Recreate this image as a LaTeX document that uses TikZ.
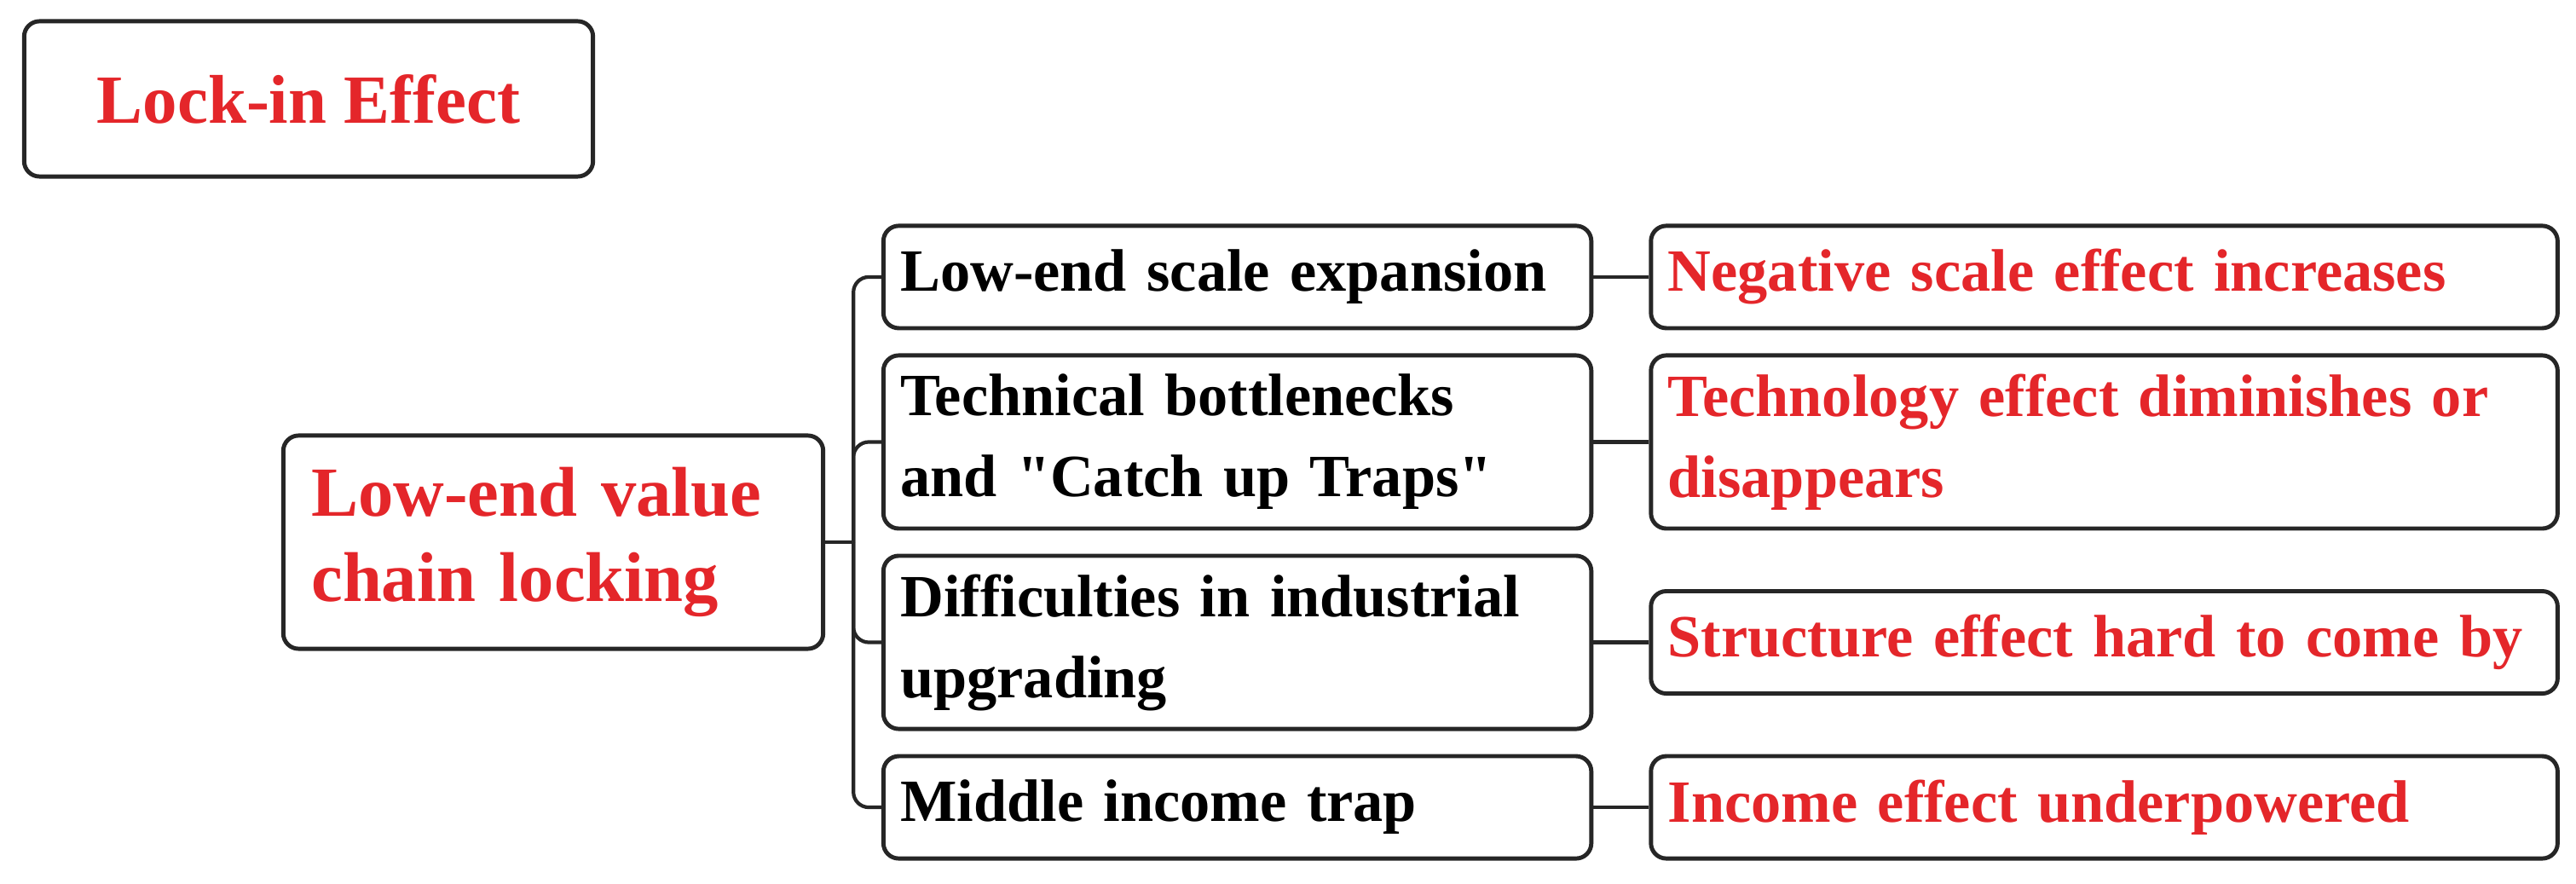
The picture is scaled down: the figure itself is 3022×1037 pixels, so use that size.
\documentclass[tikz,border=0pt]{standalone}
\usepackage{fontspec}
\setmainfont{Liberation Serif}
\usetikzlibrary{matrix,positioning}
\definecolor{lockred}{RGB}{228,38,42}

\begin{document}
\begin{tikzpicture}[x=0.01cm,y=-0.01cm,
    box/.style={draw=black!85, line width=1.4pt, rounded corners=0.18cm, align=left, inner xsep=0.2cm, inner ysep=0pt, minimum height=1.2cm, font=\bfseries\fontsize{20}{27}\selectfont},
    link/.style={draw=black!85, line width=1.2pt}]
    \useasboundingbox (0,0) rectangle (3022,1037);
    \node[box, text=lockred, align=center, minimum width=6.67cm, minimum height=1.82cm, font=\bfseries\fontsize{23}{28}\selectfont] (lock) at (362,116) {Lock-in Effect};
    \node[box, text=lockred, text width=5.67cm, inner xsep=0.33cm, minimum height=2.5cm, font=\bfseries\fontsize{23.5}{28.5}\selectfont] (main) at (649,636) {Low-end value\\chain locking};
    \coordinate[right=0.33cm of main.east] (hub);
    \matrix[matrix of nodes, nodes={box, anchor=center}, column sep=0.65cm, row sep=0.27cm, inner sep=0pt, right=0.32cm of hub,
        column 1/.style={nodes={text width=7.9cm}},
        column 2/.style={nodes={text width=10.23cm, text=lockred}},
        tall/.style={minimum height=2.03cm}] (m) {
        Low-end scale expansion & Negative scale effect increases \\
        |[tall]| {Technical bottlenecks\\and \textquotedbl Catch up Traps\textquotedbl} & |[tall]| {Technology effect diminishes or\\disappears} \\
        |[tall]| {Difficulties in industrial\\upgrading} & Structure effect hard to come by \\
        Middle income trap & Income effect underpowered \\
    };
    \draw[link] (main.east) -- (hub);
    \foreach \r in {1,...,4} {
        \draw[link, rounded corners=0.18cm] (hub) |- (m-\r-1.west);
        \draw[link] (m-\r-1.east) -- (m-\r-2.west);
    }
\end{tikzpicture}
\end{document}
